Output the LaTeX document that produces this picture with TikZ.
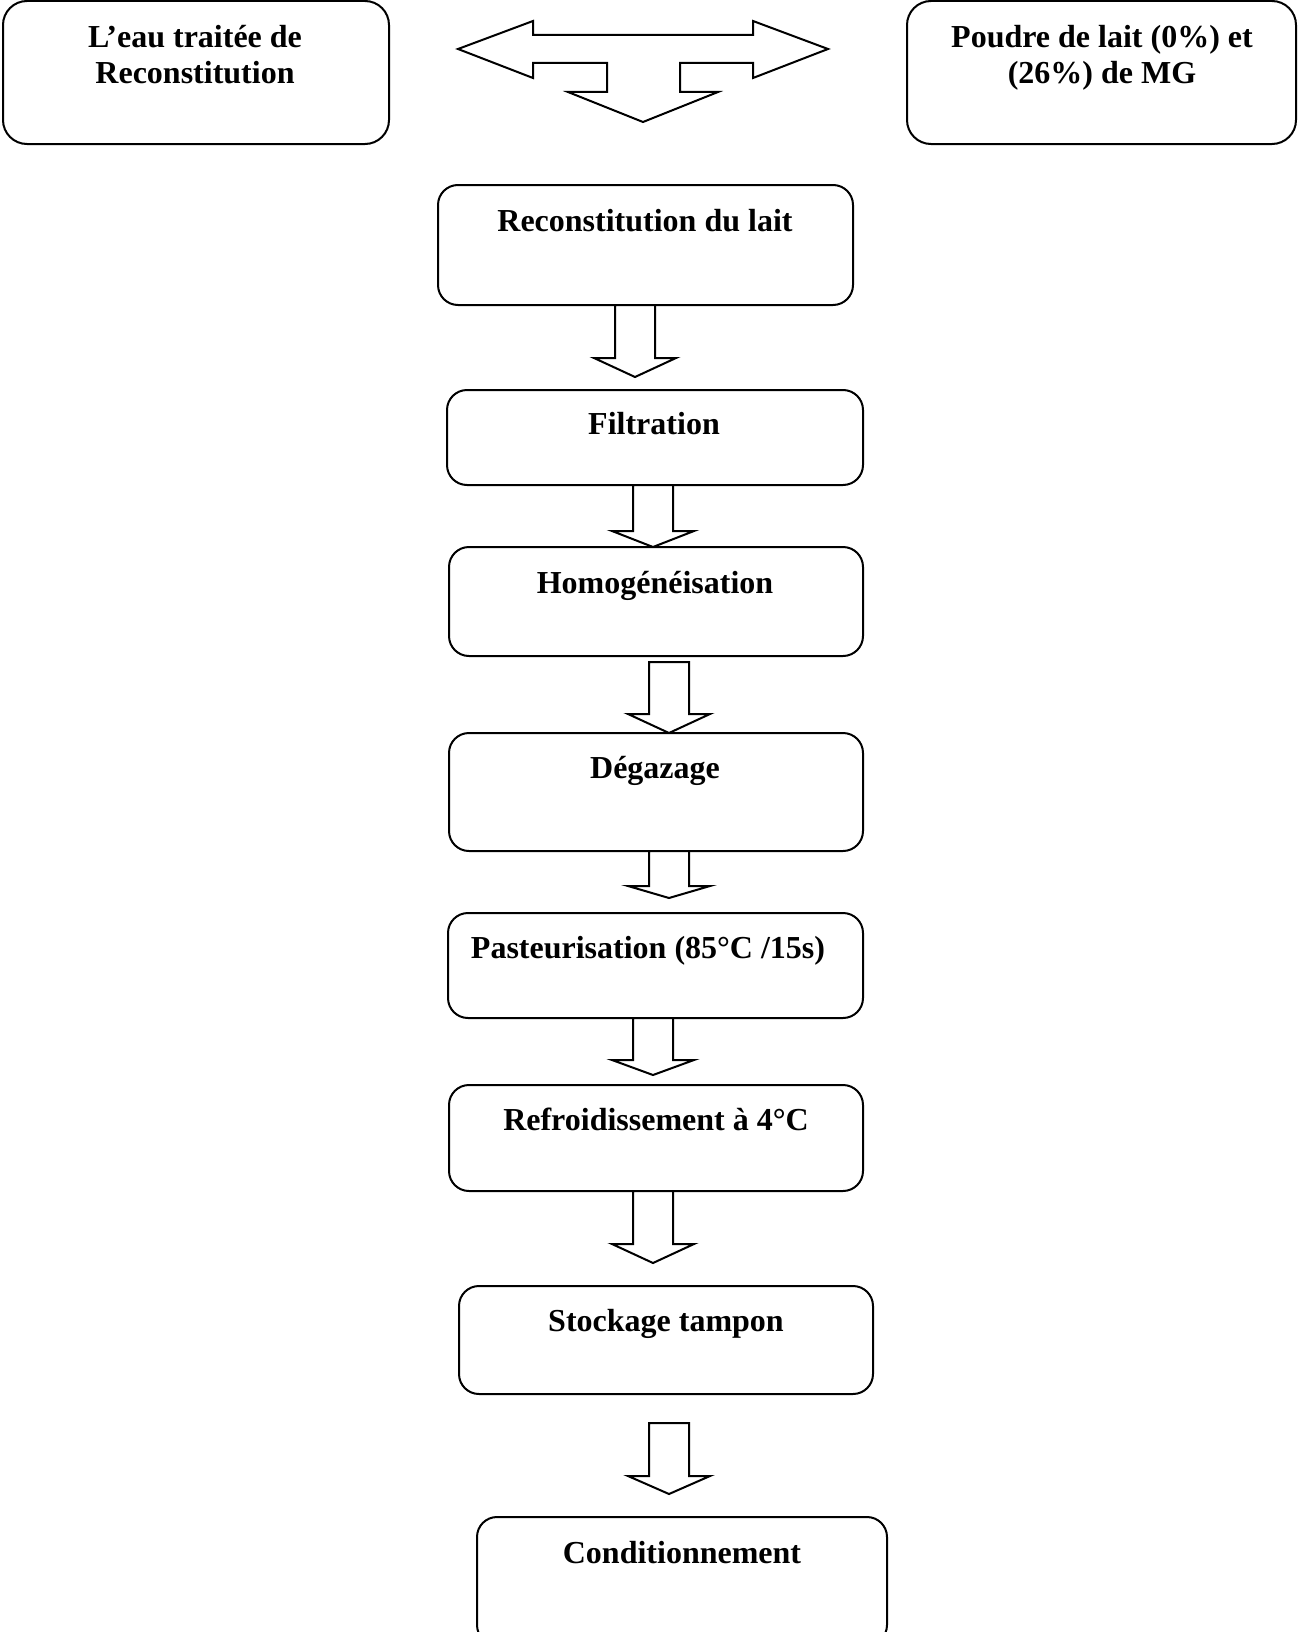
\documentclass[tikz,border=0pt]{standalone}
\usepackage{fontspec}
\setmainfont{Liberation Serif}
\usetikzlibrary{fit}

% block arrow pointing down: #1 centre x, #2 top, #3 start of head, #4 tip
\newcommand{\flowarrow}[4]{%
  \draw[blockarrow] (#1-20,#2) -- (#1-20,#3) -- (#1-41,#3) -- (#1,#4)
    -- (#1+41,#3) -- (#1+20,#3) -- (#1+20,#2) -- cycle;}

\begin{document}
\begin{tikzpicture}[x=0.5pt,y=-0.5pt,
    box/.style={draw,line width=1pt,rounded corners=10pt,inner sep=0pt},
    topbox/.style={box,rounded corners=12pt},
    steptext/.style={font=\bfseries\fontsize{16}{17}\selectfont,anchor=base,inner sep=0pt},
    blockarrow/.style={draw,line width=1pt,line join=miter,fill=white}]
  \useasboundingbox (0,0) rectangle (1298,1632);

  % inputs
  \node[topbox,fit={(3,1) (389,144)}] (eau) {};
  \node[steptext] (eaua) at (195,48) {L’eau traitée de};
  \node[steptext] (eaub) at (195,84) {Reconstitution};
  \node[topbox,fit={(907,1) (1296,144)}] (poudre) {};
  \node[steptext] (poudrea) at (1102,48) {Poudre de lait (0\%) et};
  \node[steptext] (poudreb) at (1102,84) {(26\%) de MG};

  % three-way arrow
  \draw[blockarrow] (458,49) -- (533,21) -- (533,35) -- (753,35) -- (753,21)
    -- (828,49) -- (753,78) -- (753,63) -- (680,63) -- (680,92) -- (718,92)
    -- (643,122) -- (568,92) -- (607,92) -- (607,63) -- (533,63) -- (533,78) -- cycle;

  % process steps
  \node[box,fit={(438,185) (853,305)}] (reco) {};
  \node[steptext] (recot) at (645,231) {Reconstitution du lait};
  \node[box,fit={(447,390) (863,485)}] (filtr) {};
  \node[steptext] (filtrt) at (654,434) {Filtration};
  \node[box,fit={(449,547) (863,656)}] (homog) {};
  \node[steptext] (homogt) at (655,593) {Homogénéisation};
  \node[box,fit={(449,733) (863,851)}] (degaz) {};
  \node[steptext] (degazt) at (655,778) {Dégazage};
  \node[box,fit={(448,913) (863,1018)}] (pasteur) {};
  \node[steptext] (pasteurt) at (648,958) {Pasteurisation (85°C /15s)};
  \node[box,fit={(449,1085) (863,1191)}] (refroid) {};
  \node[steptext] (refroidt) at (656,1130) {Refroidissement à 4°C};
  \node[box,fit={(459,1286) (873,1394)}] (stock) {};
  \node[steptext] (stockt) at (666,1331) {Stockage tampon};
  \node[box,fit={(477,1517) (887,1645)}] (condit) {};
  \node[steptext] (conditt) at (682,1563) {Conditionnement};

  % arrows between steps
  \flowarrow{635}{305}{358}{377}
  \flowarrow{653}{485}{531}{547}
  \flowarrow{669}{662}{714}{733}
  \flowarrow{669}{851}{886}{898}
  \flowarrow{653}{1018}{1060}{1075}
  \flowarrow{653}{1191}{1244}{1263}
  \flowarrow{669}{1423}{1476}{1494}
\end{tikzpicture}
\end{document}
